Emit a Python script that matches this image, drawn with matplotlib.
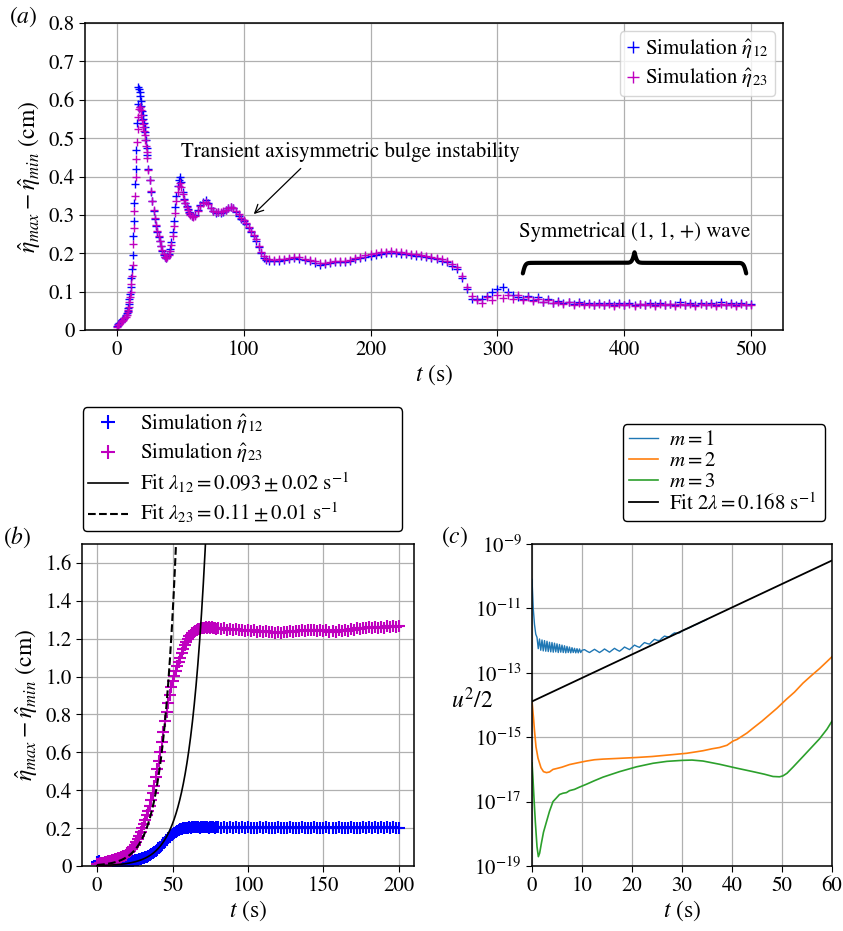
import numpy as np
import matplotlib
matplotlib.use('Agg')
import matplotlib.pyplot as plt
from matplotlib.ticker import FuncFormatter, NullLocator, FixedLocator

plt.rcParams.update({
    'font.family': 'STIXGeneral',
    'mathtext.fontset': 'stix',
    'font.size': 15,
    'axes.linewidth': 1.1,
    'grid.color': '#b0b0b0',
    'grid.linewidth': 0.9,
    'xtick.major.size': 4,
    'ytick.major.size': 4,
})

# ---------------- panel (a) data ----------------
t_a = np.concatenate([np.arange(0, 8, 1.0), np.arange(8, 24, 0.5), np.arange(24, 60, 1.0),
                      np.arange(60, 120, 2.0), np.arange(120, 500.1, 4.0)])
eta12_a = [
    0.010, 0.016, 0.019, 0.022, 0.026, 0.028, 0.032, 0.038,
    0.045, 0.050, 0.058, 0.068, 0.082, 0.095, 0.112, 0.135,
    0.160, 0.195, 0.245, 0.285, 0.330, 0.380, 0.420, 0.470,
    0.540, 0.590, 0.632, 0.628, 0.620, 0.610, 0.598, 0.585,
    0.570, 0.560, 0.550, 0.540, 0.530, 0.515, 0.495, 0.475,
    0.455, 0.420, 0.390, 0.360, 0.335, 0.310, 0.290, 0.272,
    0.256, 0.243, 0.232, 0.218, 0.206, 0.196, 0.190, 0.187,
    0.192, 0.198, 0.210, 0.230, 0.255, 0.285, 0.320, 0.350, 0.375, 0.392,
    0.398, 0.385, 0.360, 0.342, 0.330, 0.322, 0.315, 0.308, 0.302, 0.298,
    0.296, 0.300, 0.312, 0.325, 0.334, 0.338, 0.330, 0.318, 0.310, 0.306,
    0.307, 0.306, 0.308, 0.312, 0.318, 0.321, 0.318, 0.308, 0.298, 0.290,
    0.284, 0.276, 0.266, 0.255, 0.245, 0.232, 0.216, 0.200, 0.188, 0.183,
    0.181, 0.180, 0.181, 0.182, 0.185, 0.187, 0.186, 0.183,
    0.180, 0.175, 0.170, 0.171, 0.175, 0.177, 0.176, 0.176,
    0.180, 0.184, 0.188, 0.191, 0.194, 0.196, 0.198, 0.200,
    0.201, 0.200, 0.198, 0.197, 0.196, 0.194, 0.192, 0.190,
    0.187, 0.184, 0.180, 0.176, 0.168, 0.160, 0.135, 0.108,
    0.082, 0.080, 0.082, 0.088, 0.100, 0.108, 0.112, 0.098,
    0.090, 0.085, 0.082, 0.088, 0.078, 0.085, 0.074, 0.080,
    0.071, 0.076, 0.070, 0.073, 0.068, 0.072, 0.067, 0.071,
    0.066, 0.070, 0.066, 0.071, 0.065, 0.070, 0.066, 0.071,
    0.065, 0.069, 0.065, 0.070, 0.066, 0.071, 0.065, 0.069,
    0.066, 0.072, 0.065, 0.070, 0.066, 0.071, 0.065, 0.070,
    0.066, 0.072, 0.065, 0.070, 0.066, 0.071, 0.065, 0.068,
]
eta23_a = [
    0.008, 0.012, 0.016, 0.020, 0.023, 0.026, 0.030, 0.035,
    0.040, 0.046, 0.052, 0.060, 0.072, 0.085, 0.100, 0.120,
    0.140, 0.170, 0.225, 0.265, 0.310, 0.350, 0.400, 0.445,
    0.490, 0.525, 0.555, 0.575, 0.582, 0.580, 0.572, 0.560,
    0.548, 0.538, 0.528, 0.518, 0.508, 0.495, 0.480, 0.465,
    0.448, 0.418, 0.390, 0.362, 0.336, 0.312, 0.292, 0.274,
    0.258, 0.245, 0.233, 0.220, 0.208, 0.198, 0.191, 0.188,
    0.191, 0.196, 0.205, 0.222, 0.245, 0.272, 0.305, 0.335, 0.360, 0.376,
    0.382, 0.372, 0.355, 0.340, 0.330, 0.320, 0.312, 0.305, 0.300, 0.296,
    0.294, 0.298, 0.310, 0.322, 0.331, 0.334, 0.328, 0.317, 0.310, 0.307,
    0.308, 0.308, 0.309, 0.313, 0.318, 0.320, 0.318, 0.310, 0.301, 0.293,
    0.287, 0.279, 0.269, 0.258, 0.248, 0.236, 0.220, 0.204, 0.192, 0.186,
    0.184, 0.183, 0.184, 0.185, 0.188, 0.190, 0.189, 0.186,
    0.183, 0.179, 0.175, 0.175, 0.178, 0.180, 0.179, 0.179,
    0.183, 0.187, 0.191, 0.195, 0.198, 0.200, 0.202, 0.204,
    0.205, 0.204, 0.202, 0.200, 0.199, 0.197, 0.195, 0.193,
    0.190, 0.187, 0.184, 0.180, 0.172, 0.163, 0.140, 0.112,
    0.088, 0.078, 0.070, 0.085, 0.078, 0.090, 0.083, 0.092,
    0.080, 0.090, 0.078, 0.086, 0.075, 0.082, 0.072, 0.078,
    0.070, 0.074, 0.068, 0.072, 0.066, 0.070, 0.065, 0.069,
    0.064, 0.068, 0.064, 0.069, 0.063, 0.068, 0.064, 0.069,
    0.063, 0.068, 0.064, 0.068, 0.063, 0.069, 0.064, 0.068,
    0.063, 0.069, 0.064, 0.068, 0.063, 0.069, 0.064, 0.068,
    0.063, 0.069, 0.064, 0.068, 0.063, 0.069, 0.064, 0.066,
]

# ---------------- panel (b) data ----------------
t_b = np.concatenate([np.arange(0, 80, 1.0), np.arange(80, 200.1, 2.0)])
eta12_b = [
    0.020, 0.025, 0.018, 0.012, 0.010, 0.010, 0.011, 0.011, 0.012, 0.012,
    0.013, 0.014, 0.015, 0.016, 0.017, 0.018, 0.019, 0.020, 0.021, 0.022,
    0.022, 0.023, 0.025, 0.027, 0.028, 0.030, 0.032, 0.034, 0.036, 0.038,
    0.040, 0.043, 0.046, 0.050, 0.054, 0.058, 0.063, 0.068, 0.073, 0.079,
    0.085, 0.093, 0.101, 0.110, 0.119, 0.128, 0.137, 0.146, 0.155, 0.163,
    0.170, 0.176, 0.182, 0.187, 0.191, 0.194, 0.197, 0.199, 0.200, 0.201,
    0.203, 0.204, 0.203, 0.205, 0.204, 0.206, 0.204, 0.205, 0.203, 0.205,
    0.204, 0.206, 0.204, 0.205, 0.203, 0.206, 0.204, 0.205, 0.203, 0.205,
    0.204, 0.201, 0.205, 0.202, 0.206, 0.200, 0.204, 0.201, 0.205, 0.202,
    0.204, 0.200, 0.203, 0.201, 0.205, 0.200, 0.204, 0.201, 0.203, 0.200,
    0.204, 0.201, 0.203, 0.200, 0.204, 0.201, 0.203, 0.200, 0.204, 0.201,
    0.203, 0.200, 0.204, 0.201, 0.203, 0.200, 0.204, 0.201, 0.203, 0.200,
    0.204, 0.201, 0.203, 0.200, 0.204, 0.201, 0.203, 0.201, 0.204, 0.201,
    0.204, 0.201, 0.205, 0.202, 0.204, 0.201, 0.205, 0.202, 0.204, 0.202,
    0.203,
]
eta23_b = [
    0.010, 0.012, 0.014, 0.016, 0.018, 0.020, 0.022, 0.024, 0.026, 0.028,
    0.031, 0.034, 0.036, 0.038, 0.041, 0.044, 0.047, 0.051, 0.055, 0.060,
    0.066, 0.073, 0.081, 0.090, 0.100, 0.112, 0.125, 0.140, 0.158, 0.178,
    0.200, 0.220, 0.245, 0.268, 0.290, 0.318, 0.348, 0.385, 0.425, 0.468,
    0.512, 0.555, 0.600, 0.655, 0.710, 0.765, 0.815, 0.860, 0.905, 0.945,
    0.978, 1.005, 1.030, 1.055, 1.078, 1.100, 1.122, 1.145, 1.165, 1.182,
    1.198, 1.212, 1.222, 1.231, 1.238, 1.243, 1.247, 1.250, 1.253, 1.255,
    1.257, 1.259, 1.262, 1.258, 1.264, 1.257, 1.262, 1.254, 1.258, 1.251,
    1.258, 1.250, 1.256, 1.248, 1.252, 1.246, 1.250, 1.244, 1.248, 1.242,
    1.246, 1.240, 1.244, 1.238, 1.242, 1.236, 1.240, 1.234, 1.238, 1.232,
    1.236, 1.232, 1.238, 1.234, 1.240, 1.236, 1.242, 1.240, 1.246, 1.242,
    1.248, 1.244, 1.248, 1.242, 1.246, 1.240, 1.244, 1.238, 1.242, 1.238,
    1.244, 1.240, 1.246, 1.242, 1.250, 1.246, 1.254, 1.250, 1.258, 1.254,
    1.262, 1.256, 1.262, 1.256, 1.264, 1.258, 1.266, 1.260, 1.268, 1.262,
    1.266,
]
lam12, amp12 = 0.093, 0.00214
lam23, amp23 = 0.11, 0.0054

# ---------------- panel (c) data (log10 of u^2/2) ----------------
t_m1 = np.concatenate([np.arange(0, 10.01, 0.25), np.arange(10.5, 35.01, 0.5)])
log_m1 = [
    -10.1, -11.0, -11.5, -11.8, -11.9, -12.25, -11.95, -12.3,
    -11.98, -12.32, -12.0, -12.33, -12.02, -12.34, -12.05, -12.35,
    -12.06, -12.36, -12.08, -12.35, -12.1, -12.37, -12.12, -12.36,
    -12.14, -12.37, -12.16, -12.38, -12.18, -12.37, -12.2, -12.38,
    -12.22, -12.37, -12.24, -12.38, -12.25, -12.38, -12.26, -12.37,
    -12.3,
    -12.28, -12.33, -12.37, -12.32, -12.27, -12.32, -12.37, -12.32, -12.26, -12.31,
    -12.36, -12.30, -12.24, -12.29, -12.33, -12.27, -12.20, -12.24, -12.28, -12.21,
    -12.14, -12.18, -12.21, -12.13, -12.06, -12.09, -12.11, -12.03, -11.96, -11.99,
    -12.00, -11.92, -11.86, -11.88, -11.88, -11.81, -11.76, -11.77, -11.76, -11.70,
    -11.66, -11.63, -11.60, -11.56, -11.52, -11.49, -11.45, -11.41, -11.38, -11.34,
]
t_m2 = [0, 0.3, 0.5, 0.8, 1.2, 1.8, 2.3, 2.9, 3.5, 4.2,
        5, 6, 7.5, 9, 10.9, 12.5, 14.2, 17, 20.9, 24,
        27.5, 30.9, 33, 34.2, 36, 37.5, 39, 40.2, 41, 42.2,
        43, 44.2, 46, 47.5, 49, 50.9, 52.5, 54.2, 56, 57.5,
        59, 60]
log_m2 = [-13.9, -14.4, -14.8, -15.3, -15.65, -15.95, -16.07, -16.1, -16.08, -16.0,
          -15.97, -15.93, -15.85, -15.8, -15.74, -15.7, -15.68, -15.66, -15.63, -15.6,
          -15.55, -15.5, -15.45, -15.42, -15.36, -15.32, -15.25, -15.12, -15.07, -14.95,
          -14.87, -14.72, -14.5, -14.3, -14.1, -13.82, -13.6, -13.32, -13.07, -12.87,
          -12.65, -12.5]
t_m3 = [0, 0.2, 0.4, 0.67, 1.0, 1.27, 1.53, 1.87, 2.3, 2.87,
        3.5, 4.2, 4.8, 5.5, 6.2, 6.9, 7.5, 8.5, 9.5, 10.9,
        12.5, 14.2, 17.5, 20.9, 24.2, 27, 30, 32, 34.2, 37.5,
        40.9, 44.2, 46.5, 48.2, 49.5, 50.2, 51, 52.2, 54.2, 56,
        57.5, 59, 60]
log_m3 = [-15.8, -16.3, -16.9, -17.64, -18.4, -18.71, -18.6, -18.3, -17.95, -17.64,
          -17.3, -17.0, -16.9, -16.78, -16.74, -16.72, -16.66, -16.62, -16.55, -16.46,
          -16.35, -16.24, -16.07, -15.92, -15.81, -15.75, -15.72, -15.71, -15.74, -15.84,
          -15.96, -16.07, -16.15, -16.22, -16.23, -16.2, -16.12, -15.93, -15.6, -15.3,
          -15.05, -14.75, -14.5]
rate_c, amp_c = 0.168, 1.29e-14

# ---------------- figure ----------------
W, H = 843, 931
fig = plt.figure(figsize=(W / 100, H / 100), dpi=100)
ax_a = fig.add_axes([85 / W, 1 - 330 / H, 698 / W, 307 / H])
ax_b = fig.add_axes([82 / W, 1 - 866 / H, 332 / W, 322 / H])
ax_c = fig.add_axes([532 / W, 1 - 866 / H, 300 / W, 322 / H])

zero_fmt = FuncFormatter(lambda v, p: '0' if abs(v) < 1e-9 else f'{v:.1f}')
lab12 = r'Simulation $\hat{\eta}_{12}$'
lab23 = r'Simulation $\hat{\eta}_{23}$'
ylab = r'$\hat{\eta}_{max}-\hat{\eta}_{min}$ (cm)'

# (a)
ax_a.plot(t_a, eta12_a, '+', color='blue', ms=5.5, mew=1.0, label=lab12)
ax_a.plot(t_a, eta23_a, '+', color='m', ms=5.5, mew=1.0, label=lab23)
ax_a.set_xlim(-25, 525)
ax_a.set_ylim(0, 0.8)
ax_a.set_xticks(np.arange(0, 501, 100))
ax_a.set_yticks(np.arange(0, 0.81, 0.1))
ax_a.yaxis.set_major_formatter(zero_fmt)
ax_a.grid(True)
ax_a.set_xlabel(r'$t$ (s)', fontsize=17, labelpad=2)
ax_a.set_ylabel(ylab, fontsize=17)
ax_a.legend(loc='upper right', fontsize=15, numpoints=1, handlelength=0.6,
            handletextpad=0.3, borderpad=0.3, labelspacing=0.3, borderaxespad=0.4,
            markerscale=1.6)
ax_a.text(184, 0.464, 'Transient axisymmetric bulge instability', ha='center', va='center',
          fontsize=15)
ax_a.annotate('', xy=(108, 0.302), xytext=(145, 0.421),
              arrowprops=dict(arrowstyle='->', color='black', lw=0.9, shrinkA=0, shrinkB=0))
ax_a.text(408, 0.256, 'Symmetrical (1, 1, +) wave', ha='center', va='center', fontsize=15)


def draw_brace(ax, x0, x1, y_base, height, beta):
    xs = np.linspace(x0, x1, 601)
    half = xs[:301]
    yh = 1 / (1 + np.exp(-beta * (half - half[0]))) + 1 / (1 + np.exp(-beta * (half - half[-1])))
    yy = np.concatenate([yh, yh[-2::-1]])
    ax.plot(xs, y_base + (yy - 1) * height, color='black', lw=3.0, solid_capstyle='round')


draw_brace(ax_a, 320, 496, 0.175, 0.055, 1.0)

# (b)
ax_b.plot(t_b, eta12_b, '+', color='blue', ms=8, mew=1.5, label=lab12)
ax_b.plot(t_b, eta23_b, '+', color='m', ms=8, mew=1.5, label=lab23)
tf = np.linspace(0, 80, 400)
ax_b.plot(tf, amp12 * np.exp(lam12 * tf), '-', color='black', lw=1.2,
          label=r'Fit $\lambda_{12}=0.093\pm0.02$ s$^{-1}$')
ax_b.plot(tf, amp23 * np.exp(lam23 * tf), '--', color='black', lw=1.5,
          label=r'Fit $\lambda_{23}=0.11\pm0.01$ s$^{-1}$')
ax_b.set_xlim(-10, 210)
ax_b.set_ylim(0, 1.7)
ax_b.set_xticks(np.arange(0, 201, 50))
ax_b.set_yticks(np.arange(0, 1.61, 0.2))
ax_b.yaxis.set_major_formatter(zero_fmt)
ax_b.grid(True)
ax_b.set_xlabel(r'$t$ (s)', fontsize=17, labelpad=2)
ax_b.set_ylabel(ylab, fontsize=17)
leg_b = ax_b.legend(loc='lower left', bbox_to_anchor=(83 / W, 1 - 531 / H, 319 / W, 0.0),
                    bbox_transform=fig.transFigure, mode='expand', fontsize=15, numpoints=1,
                    handlelength=1.9, handletextpad=0.6, labelspacing=0.3, borderpad=0.25,
                    borderaxespad=0, fancybox=True, framealpha=1, edgecolor='black',
                    markerscale=1.2)
leg_b.get_frame().set_linewidth(1.0)

# (c)
ax_c.plot(t_m1, 10.0 ** np.array(log_m1), color='#1f77b4', lw=1.0, label=r'$m=1$')
ax_c.plot(t_m2, 10.0 ** np.array(log_m2), color='#ff7f0e', lw=1.2, label=r'$m=2$')
ax_c.plot(t_m3, 10.0 ** np.array(log_m3), color='#2ca02c', lw=1.2, label=r'$m=3$')
tc = np.linspace(0, 60, 200)
ax_c.plot(tc, amp_c * np.exp(rate_c * tc), color='black', lw=1.3,
          label=r'Fit $2\lambda=0.168$ s$^{-1}$')
ax_c.set_yscale('log')
ax_c.set_xlim(0, 60)
ax_c.set_ylim(1e-19, 1e-9)
ax_c.yaxis.set_major_locator(FixedLocator([1e-19, 1e-17, 1e-15, 1e-13, 1e-11, 1e-9]))
ax_c.yaxis.set_minor_locator(NullLocator())
ax_c.set_xticks(np.arange(0, 61, 10))
ax_c.grid(True)
ax_c.set_xlabel(r'$t$ (s)', fontsize=17, labelpad=2)
ax_c.set_ylabel(r'$u^2/2$', fontsize=17, rotation=0, ha='center', va='center')
ax_c.yaxis.set_label_coords(-0.2, 0.515)
leg_c = ax_c.legend(loc='lower left', bbox_to_anchor=(623 / W, 1 - 521 / H, 202 / W, 0.0),
                    bbox_transform=fig.transFigure, mode='expand', fontsize=15,
                    handlelength=1.4, handletextpad=0.5, labelspacing=0.05, borderpad=0.3,
                    borderaxespad=0, fancybox=True, framealpha=1, edgecolor='black')
leg_c.get_frame().set_linewidth(1.0)

# panel labels
fig.text(23 / W, 1 - 17 / H, r'($a$)', ha='center', va='center', fontsize=17)
fig.text(17.5 / W, 1 - 537 / H, r'($b$)', ha='center', va='center', fontsize=17)
fig.text(455 / W, 1 - 537 / H, r'($c$)', ha='center', va='center', fontsize=17)

fig.savefig('out.png', dpi=100)
